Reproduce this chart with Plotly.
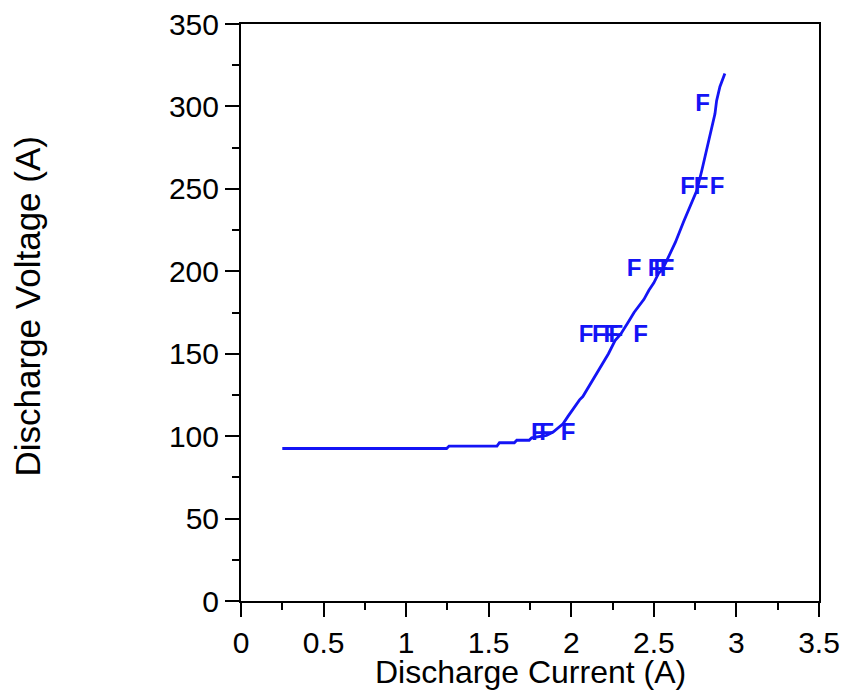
import plotly.graph_objects as go

# Discharge curve: current (A) vs voltage
current = [0.25, 1.245, 1.26, 1.55, 1.565, 1.655, 1.67, 1.745, 1.76, 1.80, 1.85,
           1.89, 1.95, 1.98, 2.01, 2.05, 2.07, 2.13, 2.185, 2.225, 2.265, 2.30,
           2.35, 2.38, 2.44, 2.47, 2.50, 2.53, 2.55, 2.58, 2.63, 2.68, 2.72,
           2.76, 2.79, 2.81, 2.83, 2.85, 2.87, 2.88, 2.90, 2.93]
voltage = [92.5, 92.5, 94, 94, 96, 96, 97.5, 97.5, 99, 99.5, 100.5,
           102.5, 107.5, 112, 116.5, 122, 124, 134, 143, 150, 158, 162,
           170, 175, 183, 188.5, 193, 199, 200.5, 207, 217.5, 230, 240,
           249, 261, 269.5, 277.5, 287.5, 295.5, 303.5, 312, 320]

# Individual measurements, drawn with the "F" symbol
meas_current = [1.80, 1.85, 1.98,
                2.09, 2.17, 2.24, 2.27, 2.42,
                2.38, 2.507, 2.543, 2.58,
                2.704, 2.786, 2.883,
                2.795]
meas_voltage = [101, 101, 101,
                160.5, 160.5, 160.5, 160.5, 160.5,
                200.5, 200.5, 200.5, 200.5,
                250.5, 250.5, 250.5,
                301]

x_ticks = [0, 0.5, 1, 1.5, 2, 2.5, 3, 3.5]
y_ticks = [0, 50, 100, 150, 200, 250, 300, 350]

BLUE = "rgb(20,20,245)"
FONT = "Liberation Sans, Arial, sans-serif"

fig = go.Figure()
fig.add_trace(go.Scatter(x=current, y=voltage, mode="lines",
                         line=dict(color=BLUE, width=2.8), hoverinfo="skip"))
fig.add_trace(go.Scatter(x=meas_current, y=meas_voltage, mode="text",
                         text=["<b>F</b>"] * len(meas_current),
                         textposition="middle center",
                         textfont=dict(family=FONT, size=24, color=BLUE)))

axis_common = dict(
    showline=True, linecolor="black", linewidth=2, mirror=True,
    ticks="outside", ticklen=14, tickwidth=2, tickcolor="black",
    showgrid=False, zeroline=False, automargin=False,
    tickfont=dict(family=FONT, size=30, color="black"),
)

fig.update_xaxes(range=[0, 3.5], tickvals=x_ticks,
                 ticktext=[f"{v:g}" for v in x_ticks],
                 minor=dict(dtick=0.25, ticks="outside", ticklen=7,
                            tickwidth=2, tickcolor="black", showgrid=False),
                 **axis_common)
fig.update_yaxes(range=[0, 350], tickvals=y_ticks,
                 ticktext=[str(v) for v in y_ticks],
                 minor=dict(dtick=25, ticks="outside", ticklen=7,
                            tickwidth=2, tickcolor="black", showgrid=False),
                 **axis_common)

fig.update_layout(
    width=841, height=698,
    margin=dict(l=241, r=22, t=24, b=97, autoexpand=False),
    paper_bgcolor="white", plot_bgcolor="white",
    showlegend=False,
    font=dict(family=FONT, color="black"),
    annotations=[
        dict(text="Discharge Current (A)", xref="paper", yref="paper",
             x=0.5, y=0, xanchor="center", yanchor="middle", yshift=-71,
             showarrow=False, font=dict(family=FONT, size=32, color="black")),
        dict(text="Discharge Voltage (A)", xref="paper", yref="paper",
             x=0, y=0.5, xanchor="center", yanchor="middle", xshift=-214,
             yshift=6, textangle=-90, showarrow=False,
             font=dict(family=FONT, size=35, color="black")),
    ],
)

fig.write_html("out.html")
